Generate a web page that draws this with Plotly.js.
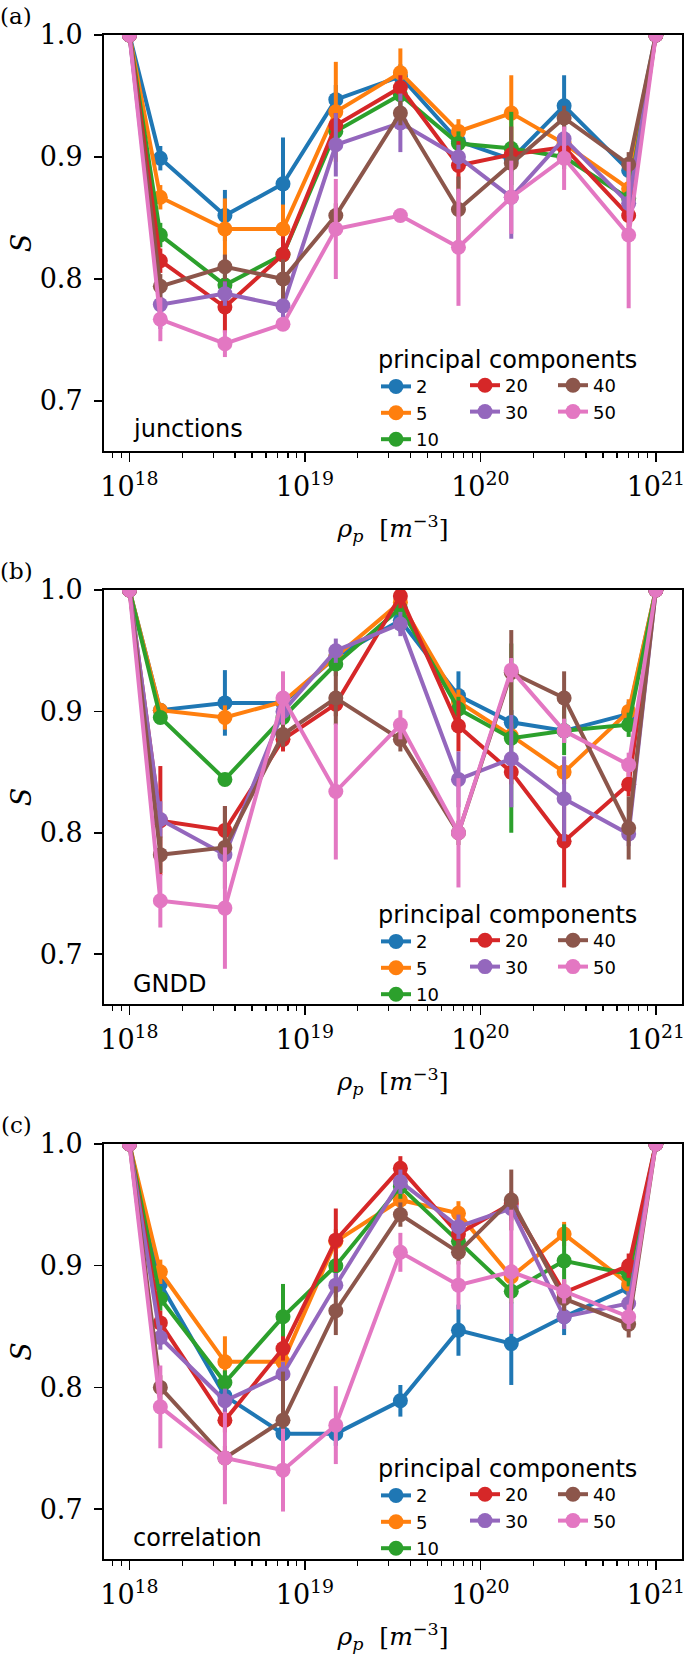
<!DOCTYPE html>
<html>
<head>
<meta charset="utf-8">
<script src="https://cdn.plot.ly/plotly-3.0.1.min.js"></script>
<style>html,body{margin:0;padding:0;background:#fff;}</style>
</head>
<body>
<div id="chart" style="width:685px;height:1655px;"></div>
<script>
// ---------------- data ----------------
const rho = [1e18, 1.5e18, 3.5e18, 7.5e18, 1.5e19, 3.5e19, 7.5e19, 1.5e20, 3e20, 7e20, 1e21];
const components = ['2', '5', '10', '20', '30', '40', '50'];
const panelNames = ['junctions', 'GNDD', 'correlation'];
const panelTags = ['(a)', '(b)', '(c)'];
const yTickVals = [0.7, 0.8, 0.9, 1.0];
const yTickText = ['0.7', '0.8', '0.9', '1.0'];
const xTickVals = [1e18, 1e19, 1e20, 1e21];
const xTickText = ['10<sup>18</sup>', '10<sup>19</sup>', '10<sup>20</sup>', '10<sup>21</sup>'];

// (a) junctions: one row per number of principal components (2,5,10,20,30,40,50)
const junctionsS = [
  [1.0, 0.899, 0.852, 0.878, 0.947, 0.966, 0.913, 0.898, 0.942, 0.889, 1.0],
  [1.0, 0.867, 0.841, 0.841, 0.937, 0.969, 0.921, 0.936, 0.911, 0.874, 1.0],
  [1.0, 0.836, 0.795, 0.820, 0.921, 0.951, 0.911, 0.907, 0.900, 0.866, 1.0],
  [1.0, 0.815, 0.777, 0.820, 0.926, 0.957, 0.893, 0.902, 0.908, 0.852, 1.0],
  [1.0, 0.779, 0.788, 0.778, 0.910, 0.928, 0.900, 0.867, 0.915, 0.862, 1.0],
  [1.0, 0.794, 0.810, 0.800, 0.852, 0.936, 0.857, 0.895, 0.932, 0.894, 1.0],
  [1.0, 0.767, 0.747, 0.763, 0.841, 0.852, 0.826, 0.867, 0.899, 0.836, 1.0]
];
const junctionsErr = [
  [0, 0.010, 0.021, 0.038, 0.012, 0.010, 0.010, 0.010, 0.025, 0.010, 0],
  [0, 0.010, 0.025, 0.020, 0.041, 0.020, 0.010, 0.031, 0.010, 0.010, 0],
  [0, 0.010, 0.010, 0.010, 0.010, 0.010, 0.010, 0.030, 0.010, 0.010, 0],
  [0, 0.010, 0.021, 0.015, 0.010, 0.010, 0.020, 0.010, 0.010, 0.010, 0],
  [0, 0.020, 0.010, 0.010, 0.026, 0.024, 0.010, 0.034, 0.010, 0.010, 0],
  [0, 0.010, 0.010, 0.016, 0.010, 0.010, 0.027, 0.030, 0.010, 0.010, 0],
  [0, 0.018, 0.011, 0.005, 0.041, 0.005, 0.048, 0.030, 0.026, 0.060, 0]
];

// (b) GNDD
const gnddS = [
  [1.0, 0.901, 0.907, 0.907, 0.945, 0.975, 0.913, 0.891, 0.884, 0.898, 1.0],
  [1.0, 0.901, 0.895, 0.908, 0.945, 0.990, 0.908, 0.880, 0.850, 0.900, 1.0],
  [1.0, 0.895, 0.844, 0.895, 0.939, 0.985, 0.902, 0.878, 0.884, 0.889, 1.0],
  [1.0, 0.810, 0.802, 0.877, 0.906, 0.995, 0.888, 0.850, 0.793, 0.840, 1.0],
  [1.0, 0.811, 0.782, 0.900, 0.950, 0.972, 0.844, 0.861, 0.828, 0.799, 1.0],
  [1.0, 0.782, 0.788, 0.881, 0.911, 0.877, 0.800, 0.932, 0.911, 0.804, 1.0],
  [1.0, 0.744, 0.738, 0.911, 0.834, 0.889, 0.800, 0.934, 0.884, 0.856, 1.0]
];
const gnddErr = [
  [0, 0.005, 0.027, 0.010, 0.010, 0.010, 0.020, 0.010, 0.010, 0.010, 0],
  [0, 0.005, 0.010, 0.010, 0.010, 0.010, 0.010, 0.010, 0.010, 0.010, 0],
  [0, 0.005, 0.005, 0.010, 0.010, 0.010, 0.010, 0.078, 0.020, 0.010, 0],
  [0, 0.045, 0.020, 0.010, 0.010, 0.010, 0.021, 0.010, 0.038, 0.010, 0],
  [0, 0.015, 0.010, 0.010, 0.010, 0.010, 0.023, 0.040, 0.035, 0.010, 0],
  [0, 0.015, 0.034, 0.010, 0.022, 0.010, 0.010, 0.035, 0.022, 0.026, 0],
  [0, 0.022, 0.050, 0.022, 0.056, 0.012, 0.045, 0.010, 0.010, 0.010, 0]
];

// (c) correlation
const correlationS = [
  [1.0, 0.885, 0.793, 0.762, 0.762, 0.789, 0.847, 0.836, 0.858, 0.882, 1.0],
  [1.0, 0.895, 0.821, 0.821, 0.920, 0.954, 0.943, 0.891, 0.926, 0.885, 1.0],
  [1.0, 0.873, 0.804, 0.858, 0.900, 0.965, 0.920, 0.879, 0.904, 0.893, 1.0],
  [1.0, 0.853, 0.773, 0.832, 0.921, 0.980, 0.926, 0.951, 0.878, 0.900, 1.0],
  [1.0, 0.841, 0.789, 0.811, 0.884, 0.969, 0.932, 0.947, 0.858, 0.869, 1.0],
  [1.0, 0.800, 0.742, 0.773, 0.863, 0.942, 0.911, 0.954, 0.873, 0.852, 1.0],
  [1.0, 0.784, 0.742, 0.732, 0.769, 0.911, 0.884, 0.895, 0.879, 0.858, 1.0]
];
const correlationErr = [
  [0, 0.010, 0.010, 0.010, 0.010, 0.013, 0.021, 0.034, 0.015, 0.010, 0],
  [0, 0.010, 0.021, 0.010, 0.010, 0.010, 0.010, 0.010, 0.010, 0.010, 0],
  [0, 0.010, 0.010, 0.027, 0.010, 0.010, 0.010, 0.010, 0.030, 0.010, 0],
  [0, 0.010, 0.010, 0.010, 0.026, 0.010, 0.010, 0.010, 0.010, 0.010, 0],
  [0, 0.010, 0.010, 0.010, 0.010, 0.010, 0.010, 0.010, 0.010, 0.010, 0],
  [0, 0.010, 0.010, 0.040, 0.020, 0.010, 0.010, 0.025, 0.010, 0.011, 0],
  [0, 0.034, 0.038, 0.034, 0.032, 0.016, 0.020, 0.051, 0.010, 0.010, 0]
];

const panelS = [junctionsS, gnddS, correlationS];
const panelErr = [junctionsErr, gnddErr, correlationErr];

// ---------------- styling / geometry ----------------
const colors = ['#1f77b4', '#ff7f0e', '#2ca02c', '#d62728', '#9467bd', '#8c564b', '#e377c2'];
const legendColumnOf = [0, 0, 0, 1, 1, 2, 2];
const W = 685, H = 1655, ML = 104, MR = 3, MT = 35, MB = 96;
const plotW = W - ML - MR, plotH = H - MT - MB;
const panelTop = [35, 590, 1144];
const panelBottom = [451, 1004, 1559];
const legendColX = [376, 465, 553];
const serif = 'DejaVu Serif, Liberation Serif, serif';
const sans = 'DejaVu Sans, sans-serif';

const pxX = p => (p - ML) / plotW;
const pxY = p => (H - MB - p) / plotH;

const minorVals = [];
for (let d = 17; d <= 21; d++) for (let m = 2; m <= 9; m++) minorVals.push(m * Math.pow(10, d));

const traces = [];
panelS.forEach((rows, p) => {
  rows.forEach((vals, i) => {
    const legendIndex = p * 3 + legendColumnOf[i] + 1;
    traces.push({
      type: 'scatter',
      mode: 'lines+markers',
      x: rho,
      y: vals,
      name: components[i],
      xaxis: p === 0 ? 'x' : 'x' + (p + 1),
      yaxis: p === 0 ? 'y' : 'y' + (p + 1),
      legend: legendIndex === 1 ? 'legend' : 'legend' + legendIndex,
      line: {color: colors[i], width: 4},
      marker: {color: colors[i], size: 15},
      error_y: {type: 'data', array: panelErr[p][i], visible: true, thickness: 4, width: 0, color: colors[i]},
      cliponaxis: true,
      hoverinfo: 'x+y+name'
    });
  });
});

const layout = {
  width: W, height: H,
  margin: {l: ML, r: MR, t: MT, b: MB, pad: 0},
  paper_bgcolor: '#fff', plot_bgcolor: '#fff',
  font: {family: sans, color: '#000'},
  showlegend: true,
  annotations: []
};

for (let p = 0; p < 3; p++) {
  const xs = p === 0 ? 'xaxis' : 'xaxis' + (p + 1);
  const ys = p === 0 ? 'yaxis' : 'yaxis' + (p + 1);
  const yref = p === 0 ? 'y' : 'y' + (p + 1);
  const xref = p === 0 ? 'x' : 'x' + (p + 1);
  layout[xs] = {
    type: 'log', range: [17.855, 21.149], anchor: yref,
    domain: [0, 1],
    tickmode: 'array', tickvals: xTickVals, ticktext: xTickText,
    ticks: 'outside', ticklen: 9, tickwidth: 1.6, tickcolor: '#000',
    ticklabelstandoff: 2,
    ticklabeloverflow: 'allow',
    minor: {tickmode: 'array', tickvals: minorVals, ticks: 'outside', ticklen: 5, tickwidth: 1.2, tickcolor: '#000', showgrid: false},
    showline: true, mirror: true, linecolor: '#000', linewidth: 2,
    showgrid: false, zeroline: false,
    tickfont: {family: serif, size: 27, color: '#000'},
    title: {text: '<i>ρ</i><sub><i>p</i></sub>  [<i>m</i><sup>−3</sup>]', font: {family: serif, size: 25, color: '#000'}},
    automargin: false
  };
  layout[ys] = {
    range: [0.659, 1.0], anchor: xref,
    domain: [pxY(panelBottom[p]), pxY(panelTop[p])],
    tickmode: 'array', tickvals: yTickVals, ticktext: yTickText,
    ticks: 'outside', ticklen: 8, tickwidth: 1.6, tickcolor: '#000',
    ticklabelstandoff: 6,
    showline: true, mirror: true, linecolor: '#000', linewidth: 2,
    showgrid: false, zeroline: false,
    tickfont: {family: serif, size: 27, color: '#000'},
    title: {text: '<i>S</i>', font: {family: serif, size: 27, color: '#000'}, standoff: 0},
    automargin: 'left'
  };

  // legends: three columns per panel
  for (let c = 0; c < 3; c++) {
    const idx = p * 3 + c + 1;
    const key = idx === 1 ? 'legend' : 'legend' + idx;
    const leg = {
      x: pxX(legendColX[c]), xanchor: 'left',
      y: pxY(panelTop[p] + (c === 0 ? 302 : 332)), yanchor: 'top',
      orientation: 'v',
      bgcolor: 'rgba(0,0,0,0)', borderwidth: 0,
      font: {family: sans, size: 18, color: '#000'},
      itemclick: false, itemdoubleclick: false
    };
    if (c === 0) {
      leg.title = {text: 'principal components', side: 'top', font: {family: sans, size: 24, color: '#000'}};
    }
    layout[key] = leg;
  }

  layout.annotations.push({
    text: panelTags[p], xref: 'paper', yref: 'paper',
    x: pxX(16), y: pxY(panelTop[p] - 19), xanchor: 'center', yanchor: 'middle',
    showarrow: false, font: {family: serif, size: 23, color: '#000'}
  });
  layout.annotations.push({
    text: panelNames[p], xref: 'paper', yref: 'paper',
    x: pxX(131), y: pxY(panelTop[p] + 394), xanchor: 'left', yanchor: 'middle',
    showarrow: false, font: {family: sans, size: 24, color: '#000'}
  });
}

Plotly.newPlot('chart', traces, layout, {displayModeBar: false, staticPlot: true});
</script>
</body>
</html>
